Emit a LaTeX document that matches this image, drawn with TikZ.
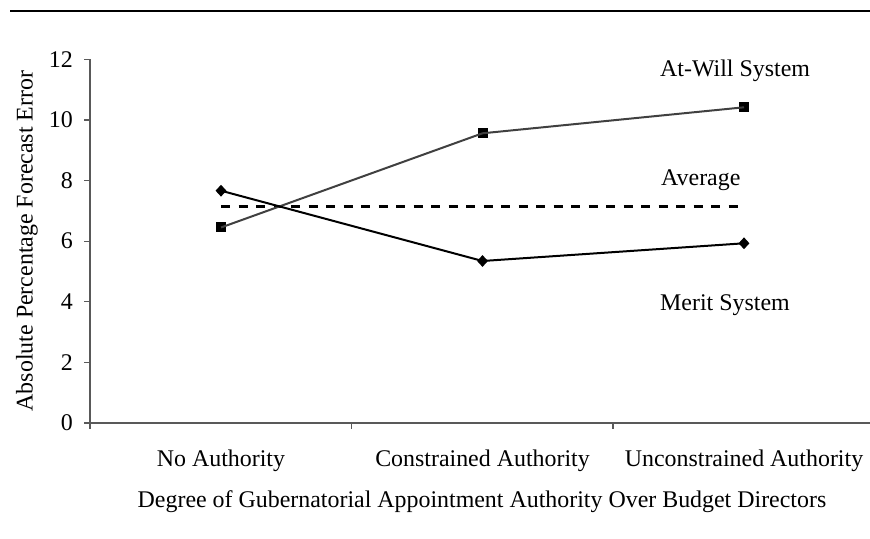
\documentclass[tikz,border=0pt]{standalone}
\usepackage{fontspec}
\setmainfont{Liberation Serif}
\usetikzlibrary{shapes.geometric}
\begin{document}
\begin{tikzpicture}[x=1bp,y=-1bp,
  lbl/.style={font=\fontsize{24}{28}\selectfont, inner sep=0pt},
  sq/.style={rectangle, fill=black, minimum size=10bp, inner sep=0pt},
  dm/.style={diamond, fill=black, minimum width=11bp, minimum height=12bp, inner sep=0pt},
  axisline/.style={draw=black!65, line width=1.2bp},
  atwill/.style={draw=black!75, line width=2bp},
  merit/.style={draw=black, line width=2bp},
  avg/.style={draw=black, line width=3bp, dash pattern=on 9bp off 8.5bp}]
\useasboundingbox (0,0) rectangle (870,539);
% top rule
\coordinate (r0) at (10,11);
\coordinate (r1) at (870,11);
\draw[line width=2bp] (r0) -- (r1);
% axes
\coordinate (o) at (90,423);
\coordinate (ytop) at (90,59.3);
\coordinate (xend) at (870,423);
\draw[axisline] (ytop) -- (o) -- (xend);
\foreach \v in {0,2,...,12}{
  \coordinate (yt\v) at (90,{423-\v*30.3});
  \draw[axisline] (yt\v) -- ++(-6,0);
  \node[lbl, anchor=east] (yl\v) at (73,{423-\v*30.3}) {\v};
}
\foreach \i/\x in {0/90,1/351.5,2/613}{
  \coordinate (xt\i) at (\x,423);
  \draw[axisline] (xt\i) -- ++(0,6);
}
% category labels
\node[lbl] (c1) at (221,461) {No Authority};
\node[lbl] (c2) at (482.5,461) {Constrained Authority};
\node[lbl] (c3) at (744,461) {Unconstrained Authority};
\node[lbl] (xtitle) at (482,502) {Degree of Gubernatorial Appointment Authority Over Budget Directors};
\node[lbl, rotate=90] (ytitle) at (27,241) {Absolute Percentage Forecast Error};
% average
\coordinate (av0) at (221,206.7);
\coordinate (av1) at (745,206.7);
\draw[avg] (av0) -- (av1);
% at-will
\node[sq] (a1) at (221,227.5) {};
\node[sq] (a2) at (482.5,133.3) {};
\node[sq] (a3) at (744,107.3) {};
\draw[atwill] (a1.center) -- (a2.center) -- (a3.center);
% merit
\node[dm] (m1) at (221,190.7) {};
\node[dm] (m2) at (482.5,261) {};
\node[dm] (m3) at (744,243.3) {};
\draw[merit] (m1.center) -- (m2.center) -- (m3.center);
% series labels
\node[lbl, anchor=west] (la) at (660,71) {At-Will System};
\node[lbl, anchor=west] (lv) at (661,180) {Average};
\node[lbl, anchor=west] (lm) at (660,305) {Merit System};
\end{tikzpicture}
\end{document}
